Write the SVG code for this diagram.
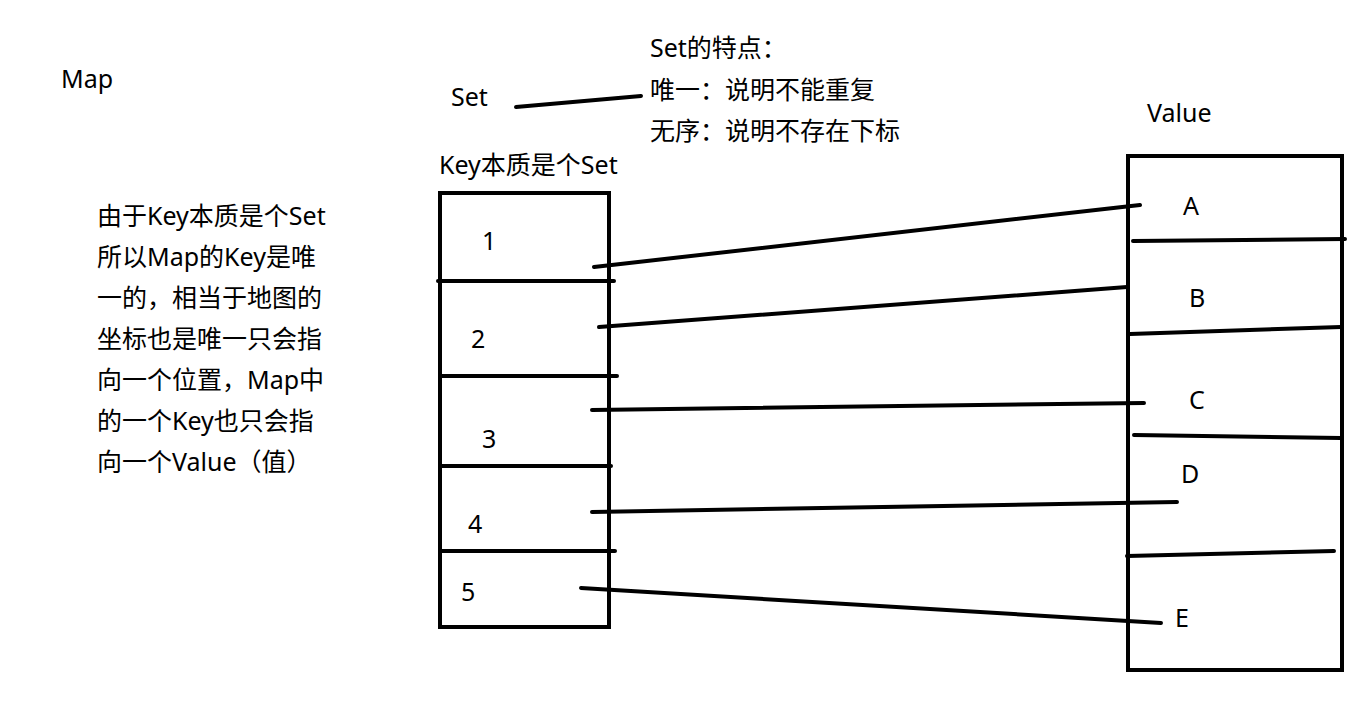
<svg xmlns="http://www.w3.org/2000/svg" width="1369" height="724" viewBox="0 0 1369 724">
<style>
text { font-family: "Noto Sans", "Noto Sans CJK SC", sans-serif; font-size: 25px; fill: #000; }
.box { fill: none; stroke: #000; stroke-width: 4; }
.ln { stroke: #000; stroke-width: 4; stroke-linecap: round; fill: none; }
</style>
<rect width="1369" height="724" fill="#fff"/>
<g id="title">
<text x="61" y="88">Map</text>
</g>
<g id="desc">
<text x="97" y="225">由于Key本质是个Set</text>
<text x="97" y="266">所以Map的Key是唯</text>
<text x="97" y="307">一的，相当于地图的</text>
<text x="97" y="348">坐标也是唯一只会指</text>
<text x="97" y="389">向一个位置，Map中</text>
<text x="97" y="430">的一个Key也只会指</text>
<text x="97" y="471">向一个Value（值）</text>
</g>
<g id="set-label">
<text x="451" y="106">Set</text>
</g>
<g id="set-features">
<text x="650" y="57">Set的特点：</text>
<text x="650" y="99">唯一：说明不能重复</text>
<text x="650" y="140">无序：说明不存在下标</text>
</g>
<g id="key-box">
<text x="439" y="174">Key本质是个Set</text>
<rect class="box" x="440" y="193" width="169" height="434"/>
<line class="ln" x1="438" y1="281" x2="614" y2="281"/>
<line class="ln" x1="440" y1="376" x2="617" y2="376"/>
<line class="ln" x1="440" y1="466" x2="611" y2="466"/>
<line class="ln" x1="440" y1="551" x2="615" y2="551"/>
<text x="482" y="250">1</text>
<text x="471" y="348">2</text>
<text x="482" y="448">3</text>
<text x="468" y="533">4</text>
<text x="461" y="601">5</text>
</g>
<g id="value-box">
<text x="1147" y="122">Value</text>
<rect class="box" x="1128" y="156" width="214" height="514"/>
<line class="ln" x1="1133" y1="241" x2="1345" y2="239"/>
<line class="ln" x1="1130" y1="334" x2="1341" y2="327"/>
<line class="ln" x1="1134" y1="435" x2="1341" y2="438"/>
<line class="ln" x1="1127" y1="556" x2="1334" y2="551"/>
<text x="1183" y="215">A</text>
<text x="1189" y="307">B</text>
<text x="1189" y="409">C</text>
<text x="1181" y="483">D</text>
<text x="1175" y="627">E</text>
</g>
<g id="connectors">
<line class="ln" x1="516" y1="107" x2="641" y2="96"/>
<line class="ln" x1="594" y1="267" x2="1140" y2="205"/>
<line class="ln" x1="599" y1="327" x2="1127" y2="287"/>
<line class="ln" x1="592" y1="410" x2="1144" y2="403"/>
<line class="ln" x1="592" y1="512" x2="1177" y2="502"/>
<line class="ln" x1="581" y1="588" x2="1161" y2="623"/>
</g>
</svg>
